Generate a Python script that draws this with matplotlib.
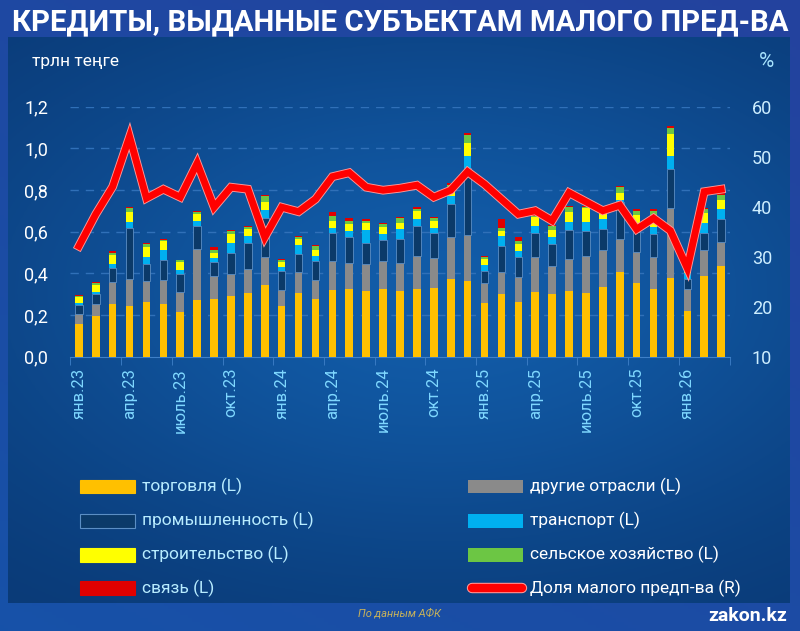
import numpy as np
import matplotlib
matplotlib.use("Agg")
import matplotlib.pyplot as plt
import matplotlib.patheffects as pe
from matplotlib.patches import Rectangle
from matplotlib.lines import Line2D

plt.rcParams['font.family'] = ['Roboto', 'DejaVu Sans']

# monthly data, Jan 2023 - Mar 2026 (trln tenge)
trade = [0.158, 0.194, 0.254, 0.245, 0.264, 0.251, 0.216, 0.270, 0.278, 0.291,
         0.307, 0.344, 0.245, 0.307, 0.277, 0.318, 0.326, 0.314, 0.326, 0.315,
         0.325, 0.328, 0.374, 0.363, 0.259, 0.302, 0.264, 0.310, 0.299, 0.315,
         0.307, 0.333, 0.406, 0.354, 0.323, 0.379, 0.218, 0.389, 0.433]
other = [0.047, 0.059, 0.104, 0.129, 0.099, 0.119, 0.094, 0.245, 0.109, 0.104,
         0.115, 0.133, 0.077, 0.098, 0.091, 0.143, 0.125, 0.131, 0.135, 0.136,
         0.158, 0.146, 0.202, 0.221, 0.095, 0.106, 0.120, 0.167, 0.136, 0.154,
         0.176, 0.179, 0.159, 0.150, 0.155, 0.333, 0.107, 0.123, 0.116]
industry = [0.041, 0.046, 0.069, 0.245, 0.082, 0.096, 0.087, 0.112, 0.066, 0.101,
            0.125, 0.187, 0.089, 0.088, 0.093, 0.131, 0.122, 0.102, 0.099, 0.112,
            0.146, 0.118, 0.157, 0.320, 0.056, 0.123, 0.093, 0.115, 0.106, 0.139,
            0.122, 0.102, 0.179, 0.093, 0.111, 0.187, 0.046, 0.083, 0.111]
transport = [0.010, 0.013, 0.018, 0.026, 0.032, 0.046, 0.019, 0.023, 0.021, 0.051,
             0.032, 0.040, 0.021, 0.043, 0.022, 0.026, 0.029, 0.061, 0.029, 0.048,
             0.030, 0.026, 0.038, 0.059, 0.028, 0.048, 0.029, 0.035, 0.032, 0.038,
             0.043, 0.045, 0.008, 0.024, 0.035, 0.064, 0.032, 0.048, 0.049]
construction = [0.029, 0.032, 0.041, 0.048, 0.048, 0.042, 0.038, 0.035, 0.025, 0.042,
                0.034, 0.040, 0.024, 0.027, 0.029, 0.033, 0.035, 0.032, 0.035, 0.032,
                0.042, 0.033, 0.029, 0.061, 0.029, 0.026, 0.033, 0.042, 0.035, 0.050,
                0.064, 0.026, 0.035, 0.058, 0.051, 0.106, 0.003, 0.045, 0.041]
agri = [0.006, 0.011, 0.014, 0.019, 0.016, 0.006, 0.008, 0.010, 0.013, 0.014,
        0.011, 0.027, 0.008, 0.010, 0.019, 0.024, 0.016, 0.013, 0.011, 0.021,
        0.010, 0.014, 0.024, 0.040, 0.010, 0.011, 0.016, 0.006, 0.019, 0.021,
        0.006, 0.030, 0.026, 0.020, 0.024, 0.027, 0.003, 0.020, 0.027]
telecom = [0.003, 0.005, 0.005, 0.005, 0.006, 0.003, 0.003, 0.006, 0.014, 0.006,
           0.005, 0.006, 0.003, 0.006, 0.006, 0.019, 0.013, 0.006, 0.005, 0.008,
           0.006, 0.006, 0.011, 0.011, 0.006, 0.043, 0.018, 0.005, 0.005, 0.006,
           0.003, 0.008, 0.008, 0.010, 0.011, 0.013, 0.001, 0.008, 0.010]
# share of small business, %
share = [32.1, 38.5, 44.0, 54.0, 41.7, 43.5, 41.9, 48.7, 39.9, 43.9,
         43.5, 33.9, 39.9, 39.0, 41.5, 46.0, 46.8, 43.9, 43.3, 43.7,
         44.3, 41.9, 43.3, 47.0, 44.5, 41.5, 38.5, 39.2, 37.2, 42.8,
         41.0, 39.2, 40.3, 35.5, 37.7, 35.2, 27.7, 43.0, 43.5]

tick_labels = ['янв.23', 'апр.23', 'июль.23', 'окт.23', 'янв.24', 'апр.24', 'июль.24',
               'окт.24', 'янв.25', 'апр.25', 'июль.25', 'окт.25', 'янв.26']

series = [
    (trade, '#ffc000', 'торговля (L)'),
    (other, '#8a8a8a', 'другие отрасли (L)'),
    (industry, '#0b3a69', 'промышленность (L)'),
    (transport, '#00b0f0', 'транспорт (L)'),
    (construction, '#ffff00', 'строительство (L)'),
    (agri, '#6cc644', 'сельское хозяйство (L)'),
    (telecom, '#e00000', 'связь (L)'),
]

fig = plt.figure(figsize=(8, 6.31), dpi=100)

# background: outer frame + darker panel with a soft glow
bg = fig.add_axes([0, 0, 1, 1], zorder=-10)
yy, xx = np.mgrid[0:1:200j, 0:1:200j]
t = 0.6 * (1 - yy) + 0.4 * xx
c_a = np.array([0.09, 0.32, 0.66])
c_b = np.array([0.14, 0.26, 0.62])
frame = c_a + (c_b - c_a) * t[..., None]
bg.imshow(frame, extent=[0, 1, 0, 1], aspect='auto', origin='upper')
glow = np.exp(-((xx - 0.55) ** 2 * 2.5 + (yy - 0.45) ** 2 * 4))
p_dark = np.array([0.035, 0.21, 0.44])
p_light = np.array([0.07, 0.36, 0.66])
panel = p_dark + (p_light - p_dark) * np.clip(glow, 0, 1)[..., None]
bg.imshow(panel, extent=[0.01, 0.9875, 0.0444, 0.94], aspect='auto', origin='upper')
bg.set_xlim(0, 1)
bg.set_ylim(0, 1)
bg.axis('off')

ax = fig.add_axes([0.088, 0.4347, 0.824, 0.3962])
ax.set_facecolor('none')
x = np.arange(len(trade))
bottom = np.zeros(len(trade))
for vals, col, name in series:
    if col == '#0b3a69':
        ax.bar(x, vals, 0.45, bottom=bottom, color=col, edgecolor='#5b8ec4', linewidth=0.6, zorder=3)
    else:
        ax.bar(x, vals, 0.45, bottom=bottom, color=col, linewidth=0, zorder=3)
    bottom += np.array(vals)

ax.set_xlim(-0.5, len(trade) - 0.5)
ax.set_ylim(0, 1.2)
ax.set_yticks(np.arange(0, 1.21, 0.2))
ax.set_yticklabels([f'{v:.1f}'.replace('.', ',') for v in np.arange(0, 1.21, 0.2)])
ax.tick_params(axis='y', length=0, pad=16, labelsize=13, labelcolor='white')
ax.set_xticks(np.arange(0, len(trade), 3))
ax.set_xticklabels(tick_labels, rotation=90, color='#7fd8ff', fontsize=12)
ax.set_xticks(np.arange(-0.5, len(trade), 3), minor=True)
ax.tick_params(axis='x', which='major', length=0, pad=8)
ax.tick_params(axis='x', which='minor', length=6, color='#3f80c8')
for v in np.arange(0.2, 1.21, 0.2):
    ax.axhline(v, color='#3070b8', lw=1, ls=(0, (6, 5)), zorder=1)
for s in ['top', 'right', 'left']:
    ax.spines[s].set_visible(False)
ax.spines['bottom'].set_color('#3f80c8')

ax2 = ax.twinx()
ax2.plot(x, share, color='#ff0000', lw=5, solid_joinstyle='miter', zorder=5,
         path_effects=[pe.Stroke(linewidth=6.3, foreground='#ff9a9a'), pe.Normal()])
ax2.set_ylim(10, 60)
ax2.set_yticks(range(10, 61, 10))
ax2.tick_params(axis='y', length=0, pad=16, labelsize=13, labelcolor='#cdeeff')
for s in ax2.spines.values():
    s.set_visible(False)

fig.text(0.5, 0.965, 'КРЕДИТЫ, ВЫДАННЫЕ СУБЪЕКТАМ МАЛОГО ПРЕД-ВА', color='white',
         fontsize=21.2, fontweight='bold', ha='center', va='center')
fig.text(0.04, 0.902, 'трлн теңге', color='white', fontsize=12.5, va='center')
fig.text(0.958, 0.902, '%', color='#a8e4ff', fontsize=15, ha='center', va='center')

# legend
left_items = [series[0], series[2], series[4], series[6]]
right_items = [series[1], series[3], series[5]]
rows = [0.229, 0.175, 0.121, 0.068]
for (vals, col, name), yr in zip(left_items, rows):
    ec = '#5b8ec4' if col == '#0b3a69' else col
    bg.add_patch(Rectangle((0.1, yr - 0.011), 0.069, 0.022, facecolor=col, edgecolor=ec, lw=0.8))
    fig.text(0.178, yr, name, color='#b8ecff', fontsize=12.5, va='center')
for (vals, col, name), yr in zip(right_items, rows):
    bg.add_patch(Rectangle((0.585, yr - 0.011), 0.069, 0.022, facecolor=col, lw=0))
    fig.text(0.663, yr, name, color='white', fontsize=12.5, va='center')
bg.add_line(Line2D([0.59, 0.652], [rows[3], rows[3]], color='#ff0000', lw=6, solid_capstyle='round',
                   path_effects=[pe.Stroke(linewidth=7.5, foreground='#ff9a9a'), pe.Normal()]))
fig.text(0.663, rows[3], 'Доля малого предп-ва (R)', color='white', fontsize=12.5, va='center')

fig.text(0.5, 0.028, 'По данным АФК', color='#c8b25a', fontsize=8, style='italic', ha='center', va='center')
fig.text(0.984, 0.024, 'zakon.kz', color='white', fontsize=14, fontweight='bold', ha='right', va='center')

fig.savefig('out.png', dpi=100)
